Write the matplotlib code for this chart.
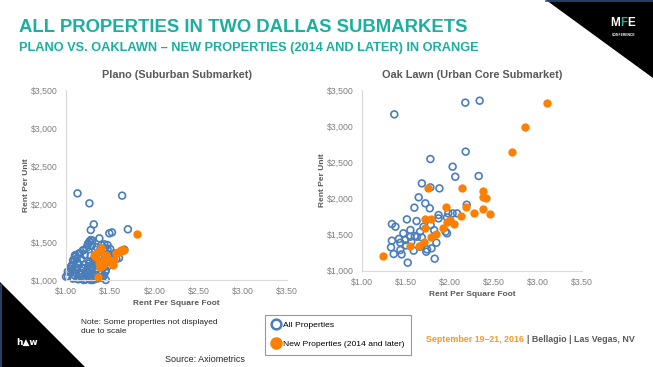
import matplotlib
matplotlib.use("Agg")
import matplotlib.pyplot as plt
from matplotlib.lines import Line2D
from matplotlib.patches import Polygon
from matplotlib.ticker import FuncFormatter

# ---- data ----
plano_all_x = [1.13, 1.265, 1.635, 1.314, 1.28, 1.52, 1.70, 1.378, 1.435, 1.47, 1.57,
               1.265, 1.20, 1.106, 1.095, 1.057, 1.02, 1.00, 1.076, 1.13, 1.28, 1.416, 1.446,
               1.02, 1.04, 1.06, 1.08, 1.10, 1.12, 1.14, 1.15, 1.17, 1.18, 1.20, 1.22, 1.23,
               1.24, 1.25, 1.26, 1.27, 1.28, 1.29, 1.30, 1.31, 1.32, 1.33, 1.34, 1.35, 1.36,
               1.37, 1.38, 1.40, 1.42, 1.44, 1.46, 1.48, 1.43, 1.45, 1.47, 1.50, 1.52, 1.55,
               1.60, 1.63, 1.66, 1.08, 1.10, 1.12, 1.16, 1.19, 1.21, 1.23, 1.25, 1.27, 1.29,
               1.30, 1.33, 1.35, 1.38, 1.40, 1.44, 1.47, 1.50, 1.05, 1.07, 1.09, 1.11, 1.13,
               1.15, 1.17, 1.19, 1.21, 1.26, 1.28, 1.31, 1.34, 1.36, 1.39, 1.41, 1.45, 1.20,
               1.30, 1.075, 1.11, 1.15, 1.245, 1.28, 1.30, 1.17, 1.19, 1.265, 1.49]
plano_all_y = [2140, 2009, 2110, 1732, 1658, 1627, 1667, 1548, 1469, 1404, 1276,
               1504, 1395, 1329, 1263, 1175, 1110, 1044, 1022, 1013, 1000, 1044, 1110,
               1045, 1110, 1175, 1020, 1060, 1130, 1010, 1200, 1040, 1090, 1150, 1005, 1060,
               1120, 1180, 1240, 1030, 1090, 1150, 1210, 1270, 1010, 1070, 1130, 1190, 1250,
               1300, 1040, 1100, 1160, 1220, 1280, 1340, 1060, 1130, 1180, 1250, 1300, 1350,
               1290, 1380, 1400, 1260, 1320, 1280, 1350, 1390, 1330, 1420, 1480, 1500, 1450,
               1520, 1400, 1430, 1380, 1460, 1420, 1460, 1410, 1150, 1200, 1100, 1170, 1230,
               1080, 1280, 1030, 1200, 1100, 1320, 1060, 1240, 1020, 1200, 1030, 1000, 1000,
               1000, 1132, 1307, 1351, 1461, 1526, 1088, 1088, 1154, 1219, 1614]
plano_new_x = [1.805, 1.36, 1.36, 1.40, 1.34, 1.435, 1.416, 1.51, 1.54, 1.57, 1.605,
               1.643, 1.378, 1.32, 1.45, 1.49, 1.53, 1.59, 1.62, 1.66, 1.38]
plano_new_y = [1600, 1045, 1373, 1417, 1307, 1263, 1197, 1219, 1263, 1351, 1373,
               1395, 1219, 1330, 1330, 1265, 1200, 1370, 1395, 1400, 1175]

oak_all_x = [1.367, 2.174, 2.337, 2.178, 1.777, 2.03, 2.06, 2.326, 1.68, 1.777, 1.88,
             1.644, 1.595, 1.72, 1.77, 1.87, 1.87, 2.03, 2.08, 2.19, 1.51, 1.62, 1.34,
             1.38, 1.47, 1.55, 1.66, 1.70, 1.78, 1.966, 1.95, 1.34, 1.436, 1.33, 1.36,
             1.45, 1.436, 1.587, 1.66, 1.74, 1.73, 1.79, 1.845, 1.826, 1.52, 1.55, 1.49,
             1.625, 1.98, 1.966, 1.60, 1.42, 1.50, 1.68, 1.82, 1.56]
oak_all_y = [3163, 3325, 3352, 2647, 2545, 2439, 2300, 2310, 2208, 2153, 2139,
             2015, 1872, 1932, 1863, 1770, 1724, 1793, 1793, 1913, 1710, 1687, 1646,
             1609, 1517, 1563, 1540, 1609, 1632, 1517, 1540, 1415, 1387, 1323, 1231,
             1226, 1286, 1277, 1332, 1295, 1263, 1309, 1387, 1166, 1111, 1470, 1424,
             1470, 1793, 1738, 1480, 1440, 1350, 1460, 1560, 1400]
oak_new_x = [1.235, 3.10, 2.856, 2.71, 1.75, 2.14, 2.37, 2.38, 2.41, 2.37, 2.45,
             2.27, 2.18, 1.95, 2.12, 2.00, 2.04, 1.72, 1.78, 1.72, 1.92, 1.845, 1.78,
             1.70, 1.65, 1.54, 1.97]
oak_new_y = [1208, 3325, 2993, 2647, 2149, 2149, 2107, 2015, 2011, 1849, 1789,
             1803, 1876, 1876, 1756, 1701, 1641, 1710, 1710, 1586, 1595, 1503, 1461,
             1392, 1346, 1341, 1678]

x_ticks = [1.0, 1.5, 2.0, 2.5, 3.0, 3.5]
y_ticks = [1000, 1500, 2000, 2500, 3000, 3500]

TEAL = "#1aaf9f"
BLUE = "#4a7ebb"
ORANGE = "#ff7f00"
GREY = "#595959"
TICK_GREY = "#7f7f7f"

plt.rcParams["font.family"] = ["Liberation Sans", "DejaVu Sans"]

W, H = 653, 367
fig = plt.figure(figsize=(W / 100, H / 100), dpi=100)
fig.patch.set_facecolor("white")


def px(x, y):
    return (x / W, 1 - y / H)


def draw_panel(rect, title, all_x, all_y, new_x, new_y):
    ax = fig.add_axes(rect)
    ax.scatter(all_x, all_y, s=24, facecolors="none", edgecolors=BLUE,
               linewidths=1.2, zorder=2, clip_on=False)
    ax.scatter(new_x, new_y, s=36, color=ORANGE, linewidths=0, zorder=3,
               clip_on=False)
    ax.set_xlim(x_ticks[0], x_ticks[-1])
    ax.set_ylim(y_ticks[0], y_ticks[-1])
    ax.set_xticks(x_ticks)
    ax.set_yticks(y_ticks)
    ax.xaxis.set_major_formatter(FuncFormatter(lambda v, _: f"${v:.2f}"))
    ax.yaxis.set_major_formatter(FuncFormatter(lambda v, _: f"${v:,.0f}"))
    ax.tick_params(length=0, labelsize=6.3, colors=TICK_GREY)
    ax.tick_params(axis="x", pad=5)
    ax.tick_params(axis="y", pad=6)
    for side in ("top", "right"):
        ax.spines[side].set_visible(False)
    for side in ("left", "bottom"):
        ax.spines[side].set_color("#d9d9d9")
        ax.spines[side].set_linewidth(0.8)
    ax.set_title(title, fontsize=7.8, fontweight="bold", color=GREY, pad=9)
    ax.set_xlabel("Rent Per Square Foot", fontsize=6, fontweight="bold",
                  color=GREY, labelpad=3)
    ax.set_ylabel("Rent Per Unit", fontsize=6, fontweight="bold",
                  color=GREY, labelpad=0.5)
    return ax


draw_panel([66 / W, 1 - 280 / H, 221 / W, 190 / H],
           "Plano (Suburban Submarket)",
           plano_all_x, plano_all_y, plano_new_x, plano_new_y)
draw_panel([362 / W, 1 - 270.7 / H, 220 / W, 180.7 / H],
           "Oak Lawn (Urban Core Submarket)",
           oak_all_x, oak_all_y, oak_new_x, oak_new_y)

# ---- slide decoration ----
fig.add_artist(Polygon([px(546, 0), px(W, 0), px(W, 78)], closed=True,
                       facecolor="black", edgecolor="none",
                       transform=fig.transFigure))
fig.add_artist(Polygon([px(0, 282), px(85, H), px(0, H)], closed=True,
                       facecolor="black", edgecolor="none",
                       transform=fig.transFigure))
fig.add_artist(Line2D([546 / W, 1], [1 - 0.5 / H, 1 - 0.5 / H], color="#2e4a7a",
                      lw=1.2, transform=fig.transFigure))
fig.add_artist(Line2D([0.5 / W, 0.5 / W], [0, 1 - 285 / H], color="#2e4a7a",
                      lw=1.2, transform=fig.transFigure))

narrow = ["Liberation Sans Narrow", "Liberation Sans", "DejaVu Sans"]
fig.text(*px(19, 27), "ALL PROPERTIES IN TWO DALLAS SUBMARKETS", color=TEAL,
         fontsize=13.3, fontweight="bold", family=narrow, va="center", ha="left")
fig.text(*px(19, 48), "PLANO VS. OAKLAWN \u2013 NEW PROPERTIES (2014 AND LATER) IN ORANGE",
         color=TEAL, fontsize=9.2, fontweight="bold", family=narrow,
         va="center", ha="left")

# MFE logo
fig.text(*px(620, 23), "M", color="white", fontsize=8.5, fontweight="bold",
         family=narrow, ha="right", va="center")
fig.text(*px(620.5, 23), "F", color=TEAL, fontsize=8.5, fontweight="bold",
         family=narrow, ha="left", va="center")
fig.text(*px(627.5, 23), "E", color="white", fontsize=8.5, fontweight="bold",
         family=narrow, ha="left", va="center")
fig.text(*px(624, 34.5), "CONFERENCE", color="white", fontsize=2.4,
         fontweight="bold", family=narrow, ha="center", va="center")

# hw logo
fig.text(*px(27, 342), "h\u25b2w", color="white", fontsize=6.5, fontweight="bold",
         family=["DejaVu Sans"], ha="center", va="center")

# footnotes
fig.text(*px(81, 327), "Note: Some properties not displayed\ndue to scale",
         fontsize=6.0, color="#262626", family=narrow, va="center", ha="left",
         linespacing=1.25)
fig.text(*px(165, 359), "Source: Axiometrics", fontsize=6.5, color="#262626",
         family=narrow, va="center", ha="left")

handles = [
    Line2D([], [], marker="o", linestyle="none", markersize=7,
           markerfacecolor="none", markeredgecolor=BLUE, markeredgewidth=1.8),
    Line2D([], [], marker="o", linestyle="none", markersize=8,
           markerfacecolor=ORANGE, markeredgecolor=ORANGE),
]
leg = fig.legend(handles, ["All Properties", "New Properties (2014 and later)"],
                 loc="upper left", bbox_to_anchor=px(265, 315),
                 frameon=True, fancybox=False, shadow=False, handletextpad=0.4,
                 handlelength=1.0, borderpad=0.75, labelspacing=1.3,
                 borderaxespad=0, prop={"family": narrow, "size": 6.1})
leg.get_frame().set_edgecolor("#7f7f7f")
leg.get_frame().set_linewidth(0.8)

fig.text(*px(426, 340), "September 19\u201321, 2016", color="#f39a2c",
         fontsize=6.4, fontweight="bold", family=narrow, va="center", ha="left")
fig.text(*px(635, 340), "| Bellagio | Las Vegas, NV", color="#595959",
         fontsize=6.4, fontweight="bold", family=narrow, va="center", ha="right")

fig.savefig("out.png", dpi=100)
